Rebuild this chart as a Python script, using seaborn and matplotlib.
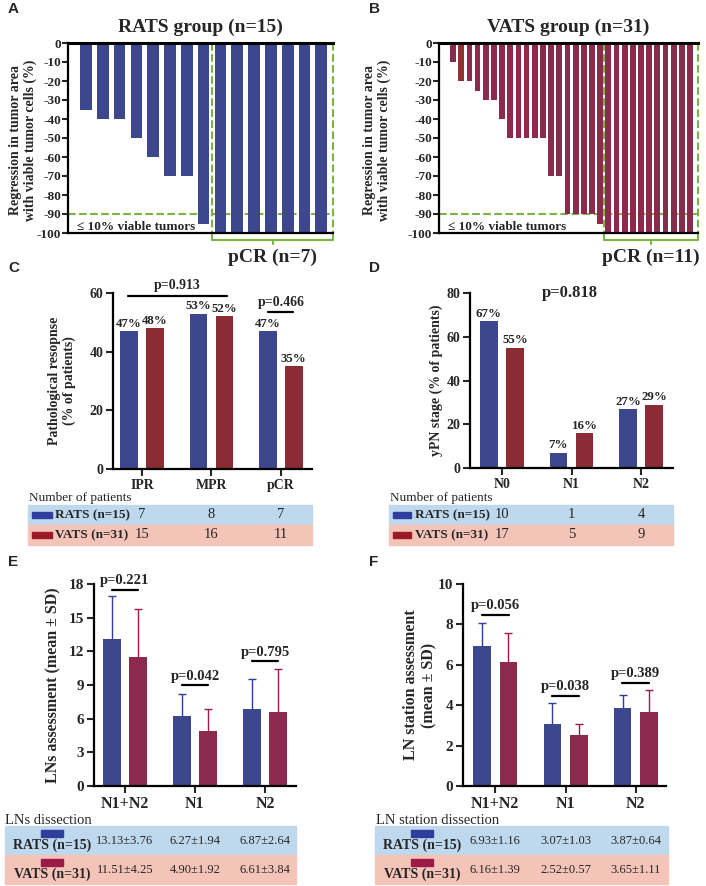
import matplotlib
matplotlib.use("Agg")
import matplotlib.pyplot as plt
import matplotlib.transforms as mtransforms
from matplotlib.patches import Rectangle
import pandas as pd
import seaborn as sns

# ---- data ----
rats_regression = [-35, -40, -40, -50, -60, -70, -70, -95,
                   -100, -100, -100, -100, -100, -100, -100]
vats_regression = [0, -10, -20, -20, -25, -30, -30, -40, -50, -50, -50, -50, -50,
                   -70, -70, -90, -90, -90, -90, -95,
                   -100, -100, -100, -100, -100, -100, -100, -100, -100, -100, -100]
rats_pcr_n = 7
vats_pcr_n = 11

response_cats = ["IPR", "MPR", "pCR"]
response_rats = [47, 53, 47]
response_vats = [48, 52, 35]
response_n_rats = [7, 8, 7]
response_n_vats = [15, 16, 11]

ypn_cats = ["N0", "N1", "N2"]
ypn_rats = [67, 7, 27]
ypn_vats = [55, 16, 29]
ypn_n_rats = [10, 1, 4]
ypn_n_vats = [17, 5, 9]

ln_cats = ["N1+N2", "N1", "N2"]
lns_rats_mean = [13.13, 6.27, 6.87]
lns_rats_sd = [3.76, 1.94, 2.64]
lns_vats_mean = [11.51, 4.90, 6.61]
lns_vats_sd = [4.25, 1.92, 3.84]
lns_p = ["p=0.221", "p=0.042", "p=0.795"]

st_rats_mean = [6.93, 3.07, 3.87]
st_rats_sd = [1.16, 1.03, 0.64]
st_vats_mean = [6.16, 2.52, 3.65]
st_vats_sd = [1.39, 0.57, 1.11]
st_p = ["p=0.056", "p=0.038", "p=0.389"]

# ---- style ----
sns.set_style("ticks")
plt.rcParams["font.family"] = ["Liberation Serif", "DejaVu Serif"]
plt.rcParams["axes.unicode_minus"] = False
plt.rcParams["axes.edgecolor"] = "black"

blue = "#2f3d9c"
red_cd = "#9b1b26"
red_ef = "#9b1a48"
dark_red = "#a81d1d"
green = "#7cb342"
tbl_blue = "#bed9ee"
tbl_pink = "#f5c4b9"

W, H = 706, 886
fig = plt.figure(figsize=(W / 100, H / 100), dpi=100)


def fx(x):
    return x / W


def fy(y):
    return 1 - y / H


def px_box(l, t, r, b):
    return [l / W, 1 - b / H, (r - l) / W, (b - t) / H]


def letter(x, y, s):
    fig.text(fx(x), fy(y), s, family="Liberation Sans", weight="bold",
             fontsize=11, ha="left", va="center")


def waterfall(ax, vals, hue, pal, n_pcr, title, pcr_label, xlim):
    idx = list(range(len(vals)))
    sns.barplot(x=idx, y=vals, hue=hue, palette=pal, dodge=False, width=0.7,
                errorbar=None, legend=False, linewidth=0, ax=ax)
    ax.set_xlim(*xlim)
    ax.set_ylim(-100, 0)
    ax.set_yticks(range(-100, 1, 10))
    ax.set_xticks([])
    ax.set_xlabel("")
    ax.set_ylabel("")
    ax.spines["right"].set_visible(False)
    for s in ["bottom", "left"]:
        ax.spines[s].set_linewidth(1.6)
    ax.spines["top"].set_linewidth(2.2)
    ax.tick_params(axis="y", direction="out", length=4, width=1.5,
                   labelsize=9.5, pad=1)
    for lab in ax.get_yticklabels():
        lab.set_fontweight("bold")
    split = len(vals) - n_pcr - 0.5
    kw = dict(ls="--", color=green, lw=1.5, clip_on=False)
    ax.plot([split, split], [0, -100], **kw)
    ax.plot([xlim[1], xlim[1]], [0, -100], **kw)
    ax.plot([xlim[0], xlim[1]], [-90, -90], zorder=0.5, **dict(kw, clip_on=True))
    # bracket under the pCR bars
    yb = -103.8
    ax.plot([split, split, xlim[1], xlim[1]], [-100, yb, yb, -100],
            color=green, lw=1.5, clip_on=False)
    mid = (split + xlim[1]) / 2
    ax.plot([mid, mid], [yb, -106], color=green, lw=1.5, clip_on=False)
    ax.text(mid, -113, pcr_label, ha="center", va="center", fontsize=14,
            weight="bold")
    ax.text(0.5, 1.085, title, transform=ax.transAxes, ha="center",
            va="center", fontsize=14, weight="bold")
    ax.text(0.035, -96.6, "\u2264 10% viable tumors",
            transform=mtransforms.blended_transform_factory(ax.transAxes, ax.transData),
            ha="left", va="center", fontsize=9.5, weight="bold")


def grouped(ax, cats, rats, vats, red, ylim, yticks, xlim, tick_fs):
    df = pd.DataFrame({"cat": cats * 2,
                       "grp": ["RATS"] * len(cats) + ["VATS"] * len(cats),
                       "val": rats + vats})
    sns.barplot(data=df, x="cat", y="val", hue="grp", palette=[blue, red],
                width=0.75, gap=0.33, errorbar=None, legend=False,
                linewidth=0, ax=ax)
    ax.set_xlim(*xlim)
    ax.set_ylim(*ylim)
    ax.set_yticks(yticks)
    ax.set_xlabel("")
    ax.set_ylabel("")
    sns.despine(ax=ax)
    for s in ["bottom", "left"]:
        ax.spines[s].set_linewidth(1.6)
    ax.tick_params(direction="out", length=5, width=1.5, labelsize=tick_fs, pad=2)
    for lab in ax.get_yticklabels() + ax.get_xticklabels():
        lab.set_fontweight("bold")
    return [[p.get_x() + p.get_width() / 2 for p in c] for c in ax.containers]


def pct_labels(ax, centers, rats, vats, dy):
    for xs, vs in zip(centers, [rats, vats]):
        for x, v in zip(xs, vs):
            ax.text(x, v + dy, f"{v}%", ha="center", va="bottom",
                    fontsize=9.3, weight="bold")


def table_cd(ax, left, right, top, hdr_x, lab_x, patch_x, n_rats, n_vats, red):
    tr = mtransforms.blended_transform_factory(ax.transData, fig.transFigure)
    fig.text(fx(hdr_x), fy(top - 7), "Number of patients", fontsize=9.5,
             ha="left", va="center")
    rows = [("RATS (n=15)", n_rats, tbl_blue, blue),
            ("VATS (n=31)", n_vats, tbl_pink, red)]
    for r, (lab, vals, bg, col) in enumerate(rows):
        y0 = top + r * 20
        fig.add_artist(Rectangle((fx(left), fy(y0 + 20)), fx(right) - fx(left),
                                 20 / H, transform=fig.transFigure, color=bg,
                                 zorder=0))
        fig.add_artist(Rectangle((fx(patch_x[0]), fy(y0 + 13)),
                                 fx(patch_x[1]) - fx(patch_x[0]), 6 / H,
                                 transform=fig.transFigure, color=col))
        fig.text(fx(lab_x), fy(y0 + 10), lab, fontsize=9.5, weight="bold",
                 ha="left", va="center")
        for i, v in enumerate(vals):
            ax.text(i, fy(y0 + 10), str(v), transform=tr, fontsize=10.5,
                    ha="center", va="center")


def table_ef(ax, left, right, hdr_x, header, patch_x, rats_m, rats_s,
             vats_m, vats_s, red):
    tr = mtransforms.blended_transform_factory(ax.transData, fig.transFigure)
    fig.text(fx(hdr_x), fy(820), header, fontsize=10.5, ha="left", va="center")
    rows = [("RATS (n=15)", rats_m, rats_s, tbl_blue, blue),
            ("VATS (n=31)", vats_m, vats_s, tbl_pink, red)]
    for r, (lab, ms, ss, bg, col) in enumerate(rows):
        y0 = 826 + r * 29
        fig.add_artist(Rectangle((fx(left), fy(y0 + 29)), fx(right) - fx(left),
                                 29 / H, transform=fig.transFigure, color=bg,
                                 zorder=0))
        fig.add_artist(Rectangle((fx(patch_x[0]), fy(y0 + 11)),
                                 fx(patch_x[1]) - fx(patch_x[0]), 7 / H,
                                 transform=fig.transFigure, color=col))
        fig.text(fx((patch_x[0] + patch_x[1]) / 2), fy(y0 + 19), lab,
                 fontsize=10, weight="bold", ha="center", va="center")
        for i, (m, s) in enumerate(zip(ms, ss)):
            ax.text(i, fy(y0 + 15), f"{m:.2f}\u00b1{s:.2f}", transform=tr,
                    fontsize=9, ha="center", va="center")


def mean_sd(ax, cats, rm, rs, vm, vs, red, ylim, yticks, xlim, pvals, p_y):
    cen = grouped(ax, cats, rm, vm, red, ylim, yticks, xlim, 11)
    for xs, ms, ss, col in zip(cen, [rm, vm], [rs, vs], [blue, red]):
        eb = ax.errorbar(xs, ms, yerr=[[0] * len(ss), ss], fmt="none",
                         ecolor=col, elinewidth=1, capsize=3, capthick=1,
                         zorder=0.8)
        eb[1][0].set_visible(False)  # no cap at the bar top
    for i, (p, (ly, ty)) in enumerate(zip(pvals, p_y)):
        ax.plot([i - 0.19, i + 0.19], [ly, ly], color="black", lw=1.6,
                clip_on=False)
        ax.text(i, ty, p, ha="center", va="center", fontsize=10.5,
                weight="bold")
    for lab in ax.get_xticklabels():
        lab.set_fontsize(11.5)


# ---- A ----
axA = fig.add_axes(px_box(68, 43, 333, 233))
waterfall(axA, rats_regression, ["a"] * len(rats_regression), {"a": blue},
          rats_pcr_n, "RATS group (n=15)", "pCR (n=7)", (-1.07, 14.7))
fig.text(fx(23), fy(140), "Regression in tumor area\nwith viable tumor cells (%)",
         rotation=90, ha="center", va="center", fontsize=10, weight="bold",
         multialignment="center")
letter(8, 9, "A")

# ---- B ----
axB = fig.add_axes(px_box(439, 43, 698, 233))
hueB = ["d" if i == 2 else "r" for i in range(len(vats_regression))]
waterfall(axB, vats_regression, hueB, {"r": red_ef, "d": dark_red},
          vats_pcr_n, "VATS group (n=31)", "pCR (n=11)", (-0.73, 30.98))
fig.text(fx(377), fy(140), "Regression in tumor area\nwith viable tumor cells (%)",
         rotation=90, ha="center", va="center", fontsize=10, weight="bold",
         multialignment="center")
letter(369, 9, "B")

# ---- C ----
axC = fig.add_axes(px_box(113, 293, 312, 469))
cC = grouped(axC, response_cats, response_rats, response_vats, red_cd,
             (0, 60), [0, 20, 40, 60], (-0.42, 2.45), 10)
pct_labels(axC, cC, response_rats, response_vats, 0.4)
axC.plot([-0.2, 1.22], [59, 59], color="black", lw=1.6, clip_on=False)
axC.text(0.5, 62.6, "p=0.913", ha="center", va="center", fontsize=10,
         weight="bold")
axC.plot([1.81, 2.17], [53.6, 53.6], color="black", lw=1.6)
axC.text(2.0, 56.6, "p=0.466", ha="center", va="center", fontsize=10,
         weight="bold")
fig.text(fx(62), fy(381), "Pathological resopnse\n(% of patients)",
         rotation=90, ha="center", va="center", fontsize=10, weight="bold",
         multialignment="center")
table_cd(axC, 28, 312, 505, 29, 55, (32, 52), response_n_rats,
         response_n_vats, red_cd)
letter(8, 268, "C")

# ---- D ----
axD = fig.add_axes(px_box(470, 293, 673, 468))
cD = grouped(axD, ypn_cats, ypn_rats, ypn_vats, red_cd,
             (0, 80), [0, 20, 40, 60, 80], (-0.46, 2.46), 10)
pct_labels(axD, cD, ypn_rats, ypn_vats, 0.6)
axD.text(0.98, 80, "p=0.818", ha="center", va="center", fontsize=12,
         weight="bold")
fig.text(fx(436), fy(380), "yPN stage (% of patients)",
         rotation=90, ha="center", va="center", fontsize=10, weight="bold")
table_cd(axD, 389, 673, 505, 390, 415, (393, 411), ypn_n_rats, ypn_n_vats,
         red_cd)
letter(369, 268, "D")

# ---- E ----
axE = fig.add_axes(px_box(94, 584, 296, 786))
mean_sd(axE, ln_cats, lns_rats_mean, lns_rats_sd, lns_vats_mean, lns_vats_sd,
        red_ef, (0, 18), [0, 3, 6, 9, 12, 15, 18], (-0.44, 2.44), lns_p,
        [(17.5, 18.3), (9.0, 9.8), (11.1, 11.9)])
fig.text(fx(53), fy(685), "LNs assessment (mean \u00b1 SD)",
         rotation=90, ha="center", va="center", fontsize=11.5, weight="bold")
table_ef(axE, 5, 296, 5, "LNs dissection", (41, 63), lns_rats_mean,
         lns_rats_sd, lns_vats_mean, lns_vats_sd, red_ef)
letter(8, 562, "E")

# ---- F ----
axF = fig.add_axes(px_box(463, 584, 666, 786))
mean_sd(axF, ln_cats, st_rats_mean, st_rats_sd, st_vats_mean, st_vats_sd,
        red_ef, (0, 10), [0, 2, 4, 6, 8, 10], (-0.46, 2.43), st_p,
        [(8.47, 8.95), (4.45, 4.93), (5.1, 5.58)])
fig.text(fx(420), fy(685), "LN station assessment\n(mean \u00b1 SD)",
         rotation=90, ha="center", va="center", fontsize=11.5, weight="bold",
         multialignment="center")
table_ef(axF, 375, 668, 376, "LN station dissection", (411, 433),
         st_rats_mean, st_rats_sd, st_vats_mean, st_vats_sd, red_ef)
letter(369, 562, "F")

fig.savefig("out.png", dpi=100)
